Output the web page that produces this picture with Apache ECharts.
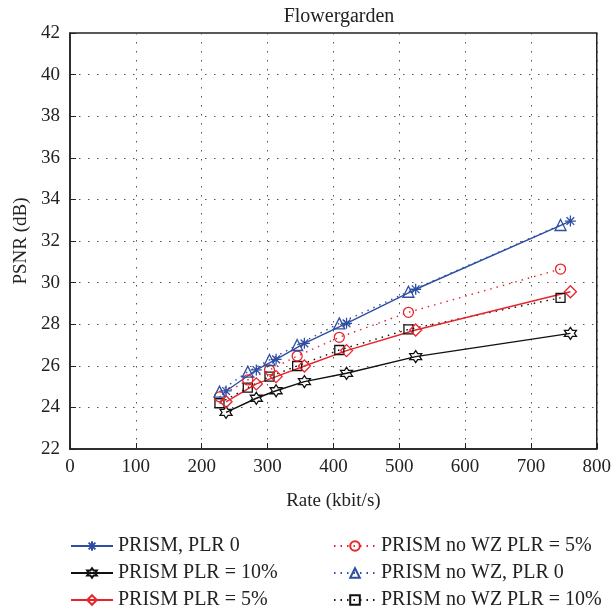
<!DOCTYPE html>
<html>
<head>
<meta charset="utf-8">
<script src="https://cdn.jsdelivr.net/npm/echarts@6/dist/echarts.min.js"></script>
<style>
html, body { margin: 0; padding: 0; background: #fff; }
#chart { width: 614px; height: 615px; }
</style>
</head>
<body>
<div id="chart"></div>
<script>
// rate (kbit/s) and PSNR (dB) for each curve
var ratePrism = [237, 283, 313, 356, 420, 525, 760]
var rateNoWz = [227, 270, 303, 345, 409, 514, 745]

var psnrPrism0 = [24.79, 25.80, 26.31, 27.08, 28.04, 29.68, 32.96]
var psnrPrism10 = [23.76, 24.44, 24.80, 25.24, 25.64, 26.44, 27.56]
var psnrPrism5 = [24.27, 25.13, 25.48, 25.99, 26.73, 27.72, 29.56]
var psnrNoWz5 = [24.51, 25.32, 25.80, 26.47, 27.37, 28.57, 30.65]
var psnrNoWz0 = [24.76, 25.72, 26.28, 27.00, 28.04, 29.56, 32.77]
var psnrNoWz10 = [24.20, 24.95, 25.48, 25.99, 26.76, 27.75, 29.27]

var xTicks = [0, 100, 200, 300, 400, 500, 600, 700, 800]
var yTicks = [22, 24, 26, 28, 30, 32, 34, 36, 38, 40, 42]

var FONT = 'Liberation Serif'
var BLUE = '#2e4ea3'
var RED = '#e8242b'
var BLACK = '#111111'

var asterisk = 'path://M0,-6L0,6M-6,0L6,0M-4.2,-4.2L4.2,4.2M-4.2,4.2L4.2,-4.2'
var hexagram = 'path://M0,-6L1.732,-3L5.196,-3L3.464,0L5.196,3L1.732,3L0,6L-1.732,3L-5.196,3L-3.464,0L-5.196,-3L-1.732,-3Z'

function pairs(xs, ys) {
    var out = []
    for (var i = 0; i < xs.length; i++) {
        out.push([xs[i], ys[i]])
    }
    return out
}

function mkSeries(name, xs, ys, color, lineType, symbol, size) {
    return {
        name: name,
        type: 'line',
        data: pairs(xs, ys),
        symbol: symbol,
        symbolSize: size,
        showAllSymbol: true,
        lineStyle: { color: color, width: 1.4, type: lineType },
        itemStyle: { color: 'rgba(255,255,255,0)', borderColor: color, borderWidth: 1.3 },
        emphasis: { disabled: true },
        animation: false,
    }
}

var legendText = { fontFamily: FONT, fontSize: 20, lineHeight: 20, color: '#222' }

var option = {
    backgroundColor: '#fff',
    title: {
        text: 'Flowergarden',
        left: 334,
        textAlign: 'center',
        top: 2,
        textStyle: { fontFamily: FONT, fontSize: 20, fontWeight: 'normal', color: '#222' },
    },
    grid: { left: 70, right: 16, top: 33, bottom: 166, show: true, borderColor: '#222', borderWidth: 1.5 },
    legend: [
        {
            orient: 'vertical',
            left: 70,
            top: 536,
            padding: 0,
            itemGap: 7,
            itemWidth: 42,
            itemHeight: 12,
            textStyle: legendText,
            data: ['PRISM, PLR 0', 'PRISM PLR = 10%', 'PRISM PLR = 5%'],
        },
        {
            orient: 'vertical',
            left: 333,
            top: 536,
            padding: 0,
            itemGap: 7,
            itemWidth: 42,
            itemHeight: 12,
            textStyle: legendText,
            data: ['PRISM no WZ PLR = 5%', 'PRISM no WZ, PLR 0', 'PRISM no WZ PLR = 10%'],
        },
    ],
    xAxis: {
        type: 'value',
        min: 0,
        max: 800,
        interval: 100,
        name: 'Rate (kbit/s)',
        nameLocation: 'middle',
        nameGap: 43,
        nameTextStyle: { fontFamily: FONT, fontSize: 19, color: '#222' },
        axisLine: { show: true, lineStyle: { color: '#222', width: 1.5 } },
        axisTick: { show: true, inside: true, length: 6, lineStyle: { color: '#222' } },
        axisLabel: { fontFamily: FONT, fontSize: 19, color: '#222', margin: 9 },
        splitLine: { show: true, lineStyle: { color: '#555', width: 1, type: [1.5, 7.5] } },
    },
    yAxis: {
        type: 'value',
        min: 22,
        max: 42,
        interval: 2,
        name: 'PSNR (dB)',
        nameLocation: 'middle',
        nameGap: 39,
        nameTextStyle: { fontFamily: FONT, fontSize: 19, color: '#222' },
        axisLine: { show: true, lineStyle: { color: '#222', width: 1.5 } },
        axisTick: { show: true, inside: true, length: 6, lineStyle: { color: '#222' } },
        axisLabel: { fontFamily: FONT, fontSize: 19, color: '#222', margin: 10 },
        splitLine: { show: true, lineStyle: { color: '#555', width: 1, type: [1.5, 7.5] } },
    },
    series: [
        mkSeries('PRISM no WZ PLR = 10%', rateNoWz, psnrNoWz10, BLACK, [1.5, 5], 'rect', 9),
        mkSeries('PRISM no WZ PLR = 5%', rateNoWz, psnrNoWz5, RED, [1.5, 5], 'circle', 10),
        mkSeries('PRISM no WZ, PLR 0', rateNoWz, psnrNoWz0, BLUE, [1.5, 5], 'triangle', 11),
        mkSeries('PRISM PLR = 10%', ratePrism, psnrPrism10, BLACK, 'solid', hexagram, 12),
        mkSeries('PRISM PLR = 5%', ratePrism, psnrPrism5, RED, 'solid', 'diamond', 12),
        mkSeries('PRISM, PLR 0', ratePrism, psnrPrism0, BLUE, 'solid', asterisk, 11),
    ],
}

var myChart = echarts.init(document.getElementById('chart'))
myChart.setOption(option)
</script>
</body>
</html>
